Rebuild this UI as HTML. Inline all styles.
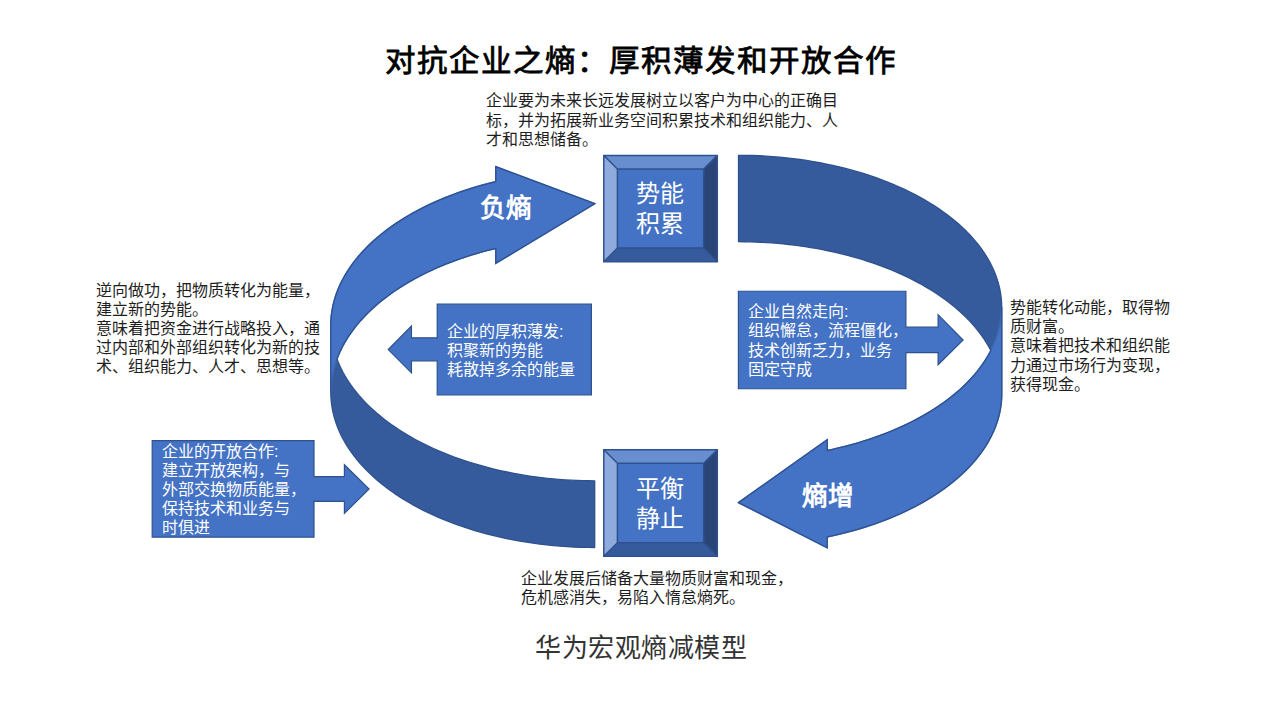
<!DOCTYPE html>
<html lang="zh-CN">
<head>
<meta charset="utf-8">
<style>
html,body{margin:0;padding:0;background:#fff;}
body{width:1280px;height:720px;position:relative;overflow:hidden;font-family:"Liberation Sans",sans-serif;}
svg{position:absolute;left:0;top:0;}
.t{position:absolute;white-space:nowrap;font-size:16px;line-height:19.2px;color:#1e1e1e;}
.w{color:#fff;}
#title{color:#000;left:385px;top:41px;font-size:30.5px;letter-spacing:2px;line-height:40px;-webkit-text-stroke:0.8px #000;transform:scaleY(0.965);transform-origin:0 0;}
#sub{left:535px;top:631.5px;font-size:26px;letter-spacing:0.55px;line-height:32px;color:#333;}
.big{font-size:25.6px;font-weight:bold;color:#fff;line-height:32px;}
.box{font-size:24px;color:#fff;line-height:30px;}
</style>
</head>
<body>
<svg width="1280" height="720" viewBox="0 0 1280 720">
<path d="M594.7 480.8 L594.7 480.8 L588.74 480.76 L582.79 480.64 L576.84 480.44 L570.91 480.17 L564.98 479.81 L559.07 479.38 L553.18 478.87 L547.31 478.28 L541.46 477.61 L535.64 476.86 L529.85 476.04 L524.09 475.14 L518.37 474.17 L512.69 473.11 L507.05 471.99 L501.45 470.79 L495.91 469.51 L490.41 468.16 L484.96 466.74 L479.58 465.25 L474.25 463.69 L468.98 462.05 L463.77 460.35 L458.63 458.58 L453.57 456.74 L448.57 454.83 L443.65 452.86 L438.8 450.82 L434.04 448.72 L429.35 446.55 L424.75 444.33 L420.24 442.04 L415.81 439.7 L411.48 437.29 L407.24 434.83 L403.1 432.31 L399.05 429.74 L395.1 427.12 L391.26 424.44 L387.52 421.72 L383.88 418.94 L380.35 416.12 L376.93 413.25 L373.62 410.34 L370.43 407.38 L367.34 404.39 L364.38 401.35 L361.53 398.27 L358.8 395.16 L356.19 392.01 L353.7 388.82 L351.34 385.61 L349.09 382.36 L346.98 379.09 L344.99 375.79 L343.12 372.46 L341.39 369.11 L339.78 365.73 L338.31 362.34 L336.96 358.92 L336.96 358.92 L335.89 361.94 L334.91 364.97 L334.04 368.01 L333.28 371.06 L332.61 374.12 L332.05 377.18 L331.59 380.25 L331.24 383.33 L330.99 386.41 L330.84 389.49 L330.8 392.57 L330.86 395.65 L331.03 398.74 L331.3 401.81 L331.67 404.89 L332.15 407.96 L332.73 411.02 L333.42 414.08 L334.2 417.13 L335.09 420.16 L336.09 423.19 L337.18 426.21 L338.38 429.21 L339.68 432.19 L341.07 435.16 L342.57 438.12 L344.17 441.05 L345.86 443.97 L347.66 446.87 L349.55 449.74 L351.54 452.59 L353.62 455.42 L355.8 458.23 L358.08 461 L360.44 463.75 L362.9 466.48 L365.45 469.17 L368.1 471.83 L370.83 474.46 L373.64 477.06 L376.55 479.63 L379.54 482.16 L382.62 484.65 L385.78 487.11 L389.02 489.53 L392.35 491.92 L395.75 494.26 L399.23 496.56 L402.79 498.83 L406.43 501.05 L410.14 503.22 L413.92 505.36 L417.77 507.45 L421.7 509.49 L425.69 511.49 L429.75 513.44 L433.87 515.34 L438.05 517.2 L442.3 519 L446.61 520.76 L450.98 522.46 L455.4 524.11 L459.88 525.72 L464.41 527.26 L469 528.76 L473.63 530.2 L478.31 531.59 L483.03 532.92 L487.8 534.2 L492.62 535.42 L497.47 536.58 L502.36 537.69 L507.29 538.74 L512.25 539.73 L517.24 540.66 L522.27 541.54 L527.32 542.36 L532.4 543.11 L537.51 543.81 L542.64 544.45 L547.78 545.03 L552.95 545.55 L558.13 546 L563.33 546.4 L568.54 546.74 L573.76 547.01 L578.99 547.22 L584.22 547.38 L589.46 547.47 L594.7 547.5 Z" fill="#365B9D"/>
<path d="M330.8 392.27 L330.85 389.21 L331.01 386.14 L331.26 383.07 L331.63 380.01 L332.09 376.95 L332.66 373.9 L333.32 370.85 L334.1 367.82 L334.97 364.79 L335.94 361.77 L337.02 358.77 L338.2 355.78 L339.47 352.8 L340.85 349.84 L342.33 346.9 L343.9 343.97 L345.58 341.06 L347.35 338.18 L349.21 335.31 L351.18 332.46 L353.24 329.64 L355.39 326.85 L357.64 324.08 L359.97 321.33 L362.41 318.61 L364.93 315.93 L367.54 313.27 L370.24 310.64 L373.03 308.05 L375.9 305.49 L378.87 302.96 L381.91 300.46 L385.04 298.01 L388.25 295.59 L391.54 293.2 L394.91 290.86 L398.36 288.56 L401.89 286.29 L405.49 284.07 L409.16 281.89 L412.91 279.75 L416.73 277.66 L420.62 275.61 L424.57 273.61 L428.6 271.65 L432.68 269.75 L436.84 267.89 L441.05 266.07 L445.32 264.31 L449.65 262.6 L454.04 260.94 L458.49 259.33 L462.98 257.77 L467.53 256.26 L472.13 254.81 L476.77 253.41 L481.47 252.07 L486.2 250.78 L490.98 249.54 L495.8 248.36 L495.8 263.31 L594.7 203.7 L495.8 166.71 L495.8 181.66 L495.8 181.66 L490.98 182.84 L486.2 184.08 L481.47 185.37 L476.77 186.71 L472.13 188.11 L467.53 189.56 L462.98 191.07 L458.49 192.63 L454.04 194.24 L449.65 195.9 L445.32 197.61 L441.05 199.37 L436.84 201.19 L432.68 203.05 L428.6 204.95 L424.57 206.91 L420.62 208.91 L416.73 210.96 L412.91 213.05 L409.16 215.19 L405.49 217.37 L401.89 219.59 L398.36 221.86 L394.91 224.16 L391.54 226.5 L388.25 228.89 L385.04 231.31 L381.91 233.76 L378.87 236.26 L375.9 238.79 L373.03 241.35 L370.24 243.94 L367.54 246.57 L364.93 249.23 L362.41 251.91 L359.97 254.63 L357.64 257.38 L355.39 260.15 L353.24 262.94 L351.18 265.76 L349.21 268.61 L347.35 271.48 L345.58 274.36 L343.9 277.27 L342.33 280.2 L340.85 283.14 L339.47 286.1 L338.2 289.08 L337.02 292.07 L335.94 295.07 L334.97 298.09 L334.1 301.12 L333.32 304.15 L332.66 307.2 L332.09 310.25 L331.63 313.31 L331.26 316.37 L331.01 319.44 L330.85 322.51 L330.8 325.57 Z" fill="#4472C4" stroke="#4472C4" stroke-width="1.6"/>
<path d="M336.96 358.92 L338.11 355.99 L339.36 353.07 L340.7 350.16 L342.13 347.27 L343.67 344.4 L345.29 341.54 L347.01 338.71 L348.83 335.89 L350.73 333.09 L352.73 330.32 L354.82 327.57 L357 324.85 L359.27 322.15 L361.63 319.47 L364.07 316.83 L366.6 314.21 L369.22 311.62 L371.92 309.06 L374.71 306.54 L377.58 304.04 L380.53 301.58 L383.56 299.15 L386.67 296.76 L389.86 294.41 L393.13 292.09 L396.47 289.81 L399.89 287.56 L403.38 285.36 L406.94 283.2 L410.58 281.07 L414.28 278.99 L418.05 276.96 L421.89 274.96 L425.79 273.01 L429.75 271.11 L433.78 269.25 L437.87 267.43 L442.02 265.67 L446.22 263.95 L450.48 262.28 L454.8 260.66 L459.16 259.09 L463.58 257.56 L468.05 256.09 L472.57 254.67 L477.13 253.31 L481.73 251.99 L486.38 250.73 L491.07 249.52 L495.8 248.36 L495.8 263.31 L594.7 203.7 L495.8 166.71 L495.8 181.66 L495.8 181.66 L490.98 182.84 L486.2 184.08 L481.47 185.37 L476.77 186.71 L472.13 188.11 L467.53 189.56 L462.98 191.07 L458.49 192.63 L454.04 194.24 L449.65 195.9 L445.32 197.61 L441.05 199.37 L436.84 201.19 L432.68 203.05 L428.6 204.95 L424.57 206.91 L420.62 208.91 L416.73 210.96 L412.91 213.05 L409.16 215.19 L405.49 217.37 L401.89 219.59 L398.36 221.86 L394.91 224.16 L391.54 226.5 L388.25 228.89 L385.04 231.31 L381.91 233.76 L378.87 236.26 L375.9 238.79 L373.03 241.35 L370.24 243.94 L367.54 246.57 L364.93 249.23 L362.41 251.91 L359.97 254.63 L357.64 257.38 L355.39 260.15 L353.24 262.94 L351.18 265.76 L349.21 268.61 L347.35 271.48 L345.58 274.36 L343.9 277.27 L342.33 280.2 L340.85 283.14 L339.47 286.1 L338.2 289.08 L337.02 292.07 L335.94 295.07 L334.97 298.09 L334.1 301.12 L333.32 304.15 L332.66 307.2 L332.09 310.25 L331.63 313.31 L331.26 316.37 L331.01 319.44 L330.85 322.51 L330.8 325.57 L330.8 392.27 L330.89 396.34 L331.16 400.4 L331.61 404.45 L332.25 408.5 L333.06 412.54 L334.05 416.56 L335.22 420.56 L336.57 424.55 L338.09 428.51 L339.79 432.45 L341.67 436.36 L343.72 440.24 L345.94 444.09 L348.33 447.9 L350.89 451.68 L353.62 455.41 L356.51 459.1 L359.56 462.75 L362.78 466.34 L366.16 469.89 L369.69 473.38 L373.37 476.82 L377.21 480.2 L381.2 483.51 L385.33 486.77 L389.61 489.96 L394.03 493.09 L398.58 496.14 L403.27 499.12 L408.09 502.04 L413.04 504.87 L418.12 507.63 L423.31 510.31 L428.62 512.91 L434.05 515.42 L439.58 517.85 L445.23 520.2 L450.97 522.46 L456.81 524.63 L462.75 526.7 L468.78 528.69 L474.89 530.58 L481.09 532.38 L487.36 534.08 L493.71 535.68 L500.13 537.19 L506.61 538.6 L513.15 539.9 L519.75 541.11 L526.4 542.21 L533.09 543.21 L539.83 544.11 L546.61 544.9 L553.42 545.59 L560.25 546.17 L567.11 546.65 L573.99 547.02 L580.89 547.29 L587.79 547.45 L594.7 547.5 L594.7 480.8 L588.74 480.76 L582.79 480.64 L576.84 480.44 L570.91 480.17 L564.98 479.81 L559.07 479.38 L553.18 478.87 L547.31 478.28 L541.46 477.61 L535.64 476.86 L529.85 476.04 L524.09 475.14 L518.37 474.17 L512.69 473.11 L507.05 471.99 L501.45 470.79 L495.91 469.51 L490.41 468.16 L484.96 466.74 L479.58 465.25 L474.25 463.69 L468.98 462.05 L463.77 460.35 L458.63 458.58 L453.57 456.74 L448.57 454.83 L443.65 452.86 L438.8 450.82 L434.04 448.72 L429.35 446.55 L424.75 444.33 L420.24 442.04 L415.81 439.7 L411.48 437.29 L407.24 434.83 L403.1 432.31 L399.05 429.74 L395.1 427.12 L391.26 424.44 L387.52 421.72 L383.88 418.94 L380.35 416.12 L376.93 413.25 L373.62 410.34 L370.43 407.38 L367.34 404.39 L364.38 401.35 L361.53 398.27 L358.8 395.16 L356.19 392.01 L353.7 388.82 L351.34 385.61 L349.09 382.36 L346.98 379.09 L344.99 375.79 L343.12 372.46 L341.39 369.11 L339.78 365.73 L338.31 362.34 L336.96 358.92 Z" fill="none" stroke="#2F528F" stroke-width="1.3" stroke-linejoin="round"/>
<path d="M330.8 392.27 L330.82 390.59 L330.86 388.91 L330.94 387.23 L331.05 385.55 L331.19 383.88 L331.36 382.2 L331.56 380.52 L331.79 378.85 L332.05 377.17 L332.35 375.5 L332.67 373.83 L333.02 372.16 L333.41 370.5 L333.83 368.84 L334.27 367.18 L334.75 365.52 L335.26 363.87 L335.8 362.22 L336.36 360.57 L336.96 358.92" fill="none" stroke="#2F528F" stroke-width="0.6" stroke-opacity="0.7"/>
<path d="M738.5 241.7 L738.5 241.7 L744.13 241.73 L749.75 241.84 L755.37 242.01 L760.98 242.26 L766.58 242.57 L772.17 242.95 L777.74 243.4 L783.3 243.92 L788.83 244.51 L794.34 245.16 L799.83 245.88 L805.28 246.68 L810.71 247.53 L816.1 248.46 L821.46 249.45 L826.78 250.51 L832.06 251.63 L837.3 252.82 L842.49 254.07 L847.64 255.39 L852.73 256.77 L857.78 258.21 L862.76 259.71 L867.7 261.28 L872.57 262.9 L877.38 264.59 L882.13 266.33 L886.81 268.14 L891.42 270 L895.97 271.91 L900.44 273.89 L904.84 275.91 L909.16 278 L913.41 280.13 L917.57 282.32 L921.65 284.55 L925.65 286.84 L929.56 289.17 L933.39 291.56 L937.13 293.99 L940.77 296.46 L944.33 298.98 L947.79 301.55 L951.15 304.15 L954.42 306.8 L957.59 309.49 L960.65 312.21 L963.62 314.97 L966.48 317.77 L969.24 320.6 L971.9 323.47 L974.44 326.37 L976.88 329.3 L979.21 332.26 L981.43 335.24 L983.54 338.26 L985.54 341.3 L987.43 344.36 L989.2 347.44 L990.85 350.55 L990.85 350.55 L992.34 347.53 L993.73 344.49 L995 341.44 L996.16 338.37 L997.22 335.29 L998.16 332.2 L998.99 329.1 L999.72 325.98 L1000.33 322.86 L1000.83 319.73 L1001.21 316.6 L1001.49 313.47 L1001.65 310.33 L1001.7 307.19 L1001.64 304.05 L1001.46 300.91 L1001.18 297.77 L1000.78 294.64 L1000.27 291.51 L999.65 288.39 L998.91 285.28 L998.07 282.18 L997.11 279.09 L996.05 276.01 L994.87 272.94 L993.59 269.89 L992.19 266.86 L990.69 263.84 L989.08 260.84 L987.37 257.86 L985.54 254.9 L983.62 251.96 L981.58 249.05 L979.45 246.16 L977.21 243.3 L974.87 240.47 L972.43 237.66 L969.89 234.88 L967.25 232.14 L964.51 229.43 L961.67 226.75 L958.74 224.1 L955.72 221.49 L952.61 218.92 L949.4 216.38 L946.1 213.88 L942.72 211.43 L939.24 209.01 L935.68 206.64 L932.04 204.31 L928.32 202.02 L924.51 199.78 L920.63 197.58 L916.66 195.43 L912.62 193.33 L908.51 191.28 L904.32 189.27 L900.07 187.32 L895.74 185.42 L891.35 183.57 L886.89 181.77 L882.37 180.03 L877.79 178.34 L873.15 176.7 L868.45 175.12 L863.69 173.6 L858.88 172.14 L854.02 170.73 L849.11 169.38 L844.16 168.09 L839.16 166.86 L834.11 165.69 L829.03 164.58 L823.9 163.53 L818.74 162.54 L813.55 161.61 L808.32 160.75 L803.07 159.95 L797.79 159.21 L792.48 158.53 L787.14 157.92 L781.79 157.37 L776.42 156.89 L771.03 156.47 L765.63 156.11 L760.22 155.82 L754.8 155.59 L749.37 155.43 L743.94 155.33 L738.5 155.3 Z" fill="#365B9D"/>
<path d="M1001.7 307.35 L1001.64 310.46 L1001.48 313.57 L1001.2 316.67 L1000.82 319.77 L1000.33 322.87 L999.72 325.96 L999.01 329.04 L998.19 332.12 L997.25 335.18 L996.22 338.23 L995.07 341.27 L993.81 344.29 L992.45 347.3 L990.99 350.29 L989.41 353.27 L987.73 356.22 L985.95 359.15 L984.07 362.07 L982.08 364.96 L979.99 367.82 L977.8 370.66 L975.51 373.48 L973.12 376.26 L970.63 379.02 L968.04 381.75 L965.36 384.44 L962.58 387.11 L959.71 389.74 L956.75 392.33 L953.7 394.89 L950.55 397.42 L947.32 399.9 L944 402.35 L940.6 404.76 L937.1 407.13 L933.53 409.45 L929.88 411.73 L926.14 413.97 L922.33 416.17 L918.44 418.32 L914.47 420.42 L910.43 422.48 L906.32 424.48 L902.14 426.44 L897.89 428.35 L893.57 430.21 L889.19 432.01 L884.75 433.77 L880.24 435.47 L875.68 437.12 L871.06 438.71 L866.38 440.25 L861.65 441.73 L856.86 443.16 L852.03 444.53 L847.15 445.84 L842.23 447.09 L837.26 448.29 L832.25 449.43 L827.2 450.51 L827.2 439.71 L738.5 502.6 L827.2 547.71 L827.2 536.91 L827.2 536.91 L832.25 535.83 L837.26 534.69 L842.23 533.49 L847.15 532.24 L852.03 530.93 L856.86 529.56 L861.65 528.13 L866.38 526.65 L871.06 525.11 L875.68 523.52 L880.24 521.87 L884.75 520.17 L889.19 518.41 L893.57 516.61 L897.89 514.75 L902.14 512.84 L906.32 510.88 L910.43 508.88 L914.47 506.82 L918.44 504.72 L922.33 502.57 L926.14 500.37 L929.88 498.13 L933.53 495.85 L937.1 493.53 L940.6 491.16 L944 488.75 L947.32 486.3 L950.55 483.82 L953.7 481.29 L956.75 478.73 L959.71 476.14 L962.58 473.51 L965.36 470.84 L968.04 468.15 L970.63 465.42 L973.12 462.66 L975.51 459.88 L977.8 457.06 L979.99 454.22 L982.08 451.36 L984.07 448.47 L985.95 445.55 L987.73 442.62 L989.41 439.67 L990.99 436.69 L992.45 433.7 L993.81 430.69 L995.07 427.67 L996.22 424.63 L997.25 421.58 L998.19 418.52 L999.01 415.44 L999.72 412.36 L1000.33 409.27 L1000.82 406.17 L1001.2 403.07 L1001.48 399.97 L1001.64 396.86 L1001.7 393.75 Z" fill="#4472C4" stroke="#4472C4" stroke-width="1.6"/>
<path d="M990.85 350.55 L989.4 353.28 L987.87 355.99 L986.24 358.69 L984.53 361.37 L982.73 364.03 L980.85 366.67 L978.87 369.29 L976.82 371.88 L974.68 374.46 L972.46 377.01 L970.15 379.53 L967.76 382.03 L965.29 384.51 L962.75 386.95 L960.12 389.37 L957.41 391.76 L954.63 394.12 L951.77 396.45 L948.84 398.75 L945.83 401.02 L942.75 403.25 L939.6 405.45 L936.37 407.61 L933.08 409.74 L929.72 411.83 L926.29 413.89 L922.79 415.91 L919.23 417.89 L915.6 419.83 L911.92 421.73 L908.17 423.59 L904.36 425.41 L900.49 427.19 L896.57 428.93 L892.59 430.62 L888.55 432.27 L884.47 433.87 L880.33 435.44 L876.14 436.95 L871.9 438.42 L867.62 439.85 L863.29 441.22 L858.92 442.55 L854.5 443.84 L850.04 445.07 L845.55 446.26 L841.01 447.39 L836.44 448.48 L831.84 449.52 L827.2 450.51 L827.2 439.71 L738.5 502.6 L827.2 547.71 L827.2 536.91 L827.2 536.91 L832.25 535.83 L837.26 534.69 L842.23 533.49 L847.15 532.24 L852.03 530.93 L856.86 529.56 L861.65 528.13 L866.38 526.65 L871.06 525.11 L875.68 523.52 L880.24 521.87 L884.75 520.17 L889.19 518.41 L893.57 516.61 L897.89 514.75 L902.14 512.84 L906.32 510.88 L910.43 508.88 L914.47 506.82 L918.44 504.72 L922.33 502.57 L926.14 500.37 L929.88 498.13 L933.53 495.85 L937.1 493.53 L940.6 491.16 L944 488.75 L947.32 486.3 L950.55 483.82 L953.7 481.29 L956.75 478.73 L959.71 476.14 L962.58 473.51 L965.36 470.84 L968.04 468.15 L970.63 465.42 L973.12 462.66 L975.51 459.88 L977.8 457.06 L979.99 454.22 L982.08 451.36 L984.07 448.47 L985.95 445.55 L987.73 442.62 L989.41 439.67 L990.99 436.69 L992.45 433.7 L993.81 430.69 L995.07 427.67 L996.22 424.63 L997.25 421.58 L998.19 418.52 L999.01 415.44 L999.72 412.36 L1000.33 409.27 L1000.82 406.17 L1001.2 403.07 L1001.48 399.97 L1001.64 396.86 L1001.7 393.75 L1001.7 307.35 L1001.61 303.37 L1001.34 299.39 L1000.89 295.42 L1000.26 291.46 L999.45 287.5 L998.46 283.56 L997.29 279.64 L995.95 275.74 L994.43 271.85 L992.73 268 L990.86 264.17 L988.82 260.36 L986.6 256.59 L984.22 252.86 L981.67 249.16 L978.95 245.51 L976.06 241.89 L973.01 238.32 L969.8 234.8 L966.44 231.33 L962.91 227.9 L959.24 224.54 L955.41 221.23 L951.43 217.98 L947.31 214.79 L943.04 211.66 L938.64 208.6 L934.1 205.61 L929.42 202.69 L924.61 199.83 L919.67 197.06 L914.62 194.35 L909.43 191.73 L904.14 189.18 L898.73 186.72 L893.21 184.34 L887.58 182.04 L881.85 179.83 L876.02 177.71 L870.1 175.67 L864.09 173.73 L857.99 171.87 L851.81 170.11 L845.55 168.45 L839.22 166.87 L832.82 165.4 L826.36 164.02 L819.83 162.74 L813.25 161.56 L806.62 160.48 L799.94 159.5 L793.22 158.62 L786.46 157.85 L779.67 157.17 L772.85 156.6 L766.01 156.13 L759.15 155.77 L752.27 155.51 L745.39 155.35 L738.5 155.3 L738.5 241.7 L744.13 241.73 L749.75 241.84 L755.37 242.01 L760.98 242.26 L766.58 242.57 L772.17 242.95 L777.74 243.4 L783.3 243.92 L788.83 244.51 L794.34 245.16 L799.83 245.88 L805.28 246.68 L810.71 247.53 L816.1 248.46 L821.46 249.45 L826.78 250.51 L832.06 251.63 L837.3 252.82 L842.49 254.07 L847.64 255.39 L852.73 256.77 L857.78 258.21 L862.76 259.71 L867.7 261.28 L872.57 262.9 L877.38 264.59 L882.13 266.33 L886.81 268.14 L891.42 270 L895.97 271.91 L900.44 273.89 L904.84 275.91 L909.16 278 L913.41 280.13 L917.57 282.32 L921.65 284.55 L925.65 286.84 L929.56 289.17 L933.39 291.56 L937.13 293.99 L940.77 296.46 L944.33 298.98 L947.79 301.55 L951.15 304.15 L954.42 306.8 L957.59 309.49 L960.65 312.21 L963.62 314.97 L966.48 317.77 L969.24 320.6 L971.9 323.47 L974.44 326.37 L976.88 329.3 L979.21 332.26 L981.43 335.24 L983.54 338.26 L985.54 341.3 L987.43 344.36 L989.2 347.44 L990.85 350.55 Z" fill="none" stroke="#2F528F" stroke-width="1.3" stroke-linejoin="round"/>
<path d="M1001.7 307.35 L1001.67 309.54 L1001.59 311.73 L1001.45 313.92 L1001.26 316.11 L1001.02 318.29 L1000.72 320.47 L1000.36 322.66 L999.95 324.83 L999.49 327.01 L998.97 329.18 L998.4 331.34 L997.78 333.5 L997.1 335.66 L996.37 337.8 L995.58 339.95 L994.74 342.08 L993.85 344.21 L992.9 346.33 L991.9 348.45 L990.85 350.55" fill="none" stroke="#2F528F" stroke-width="0.6" stroke-opacity="0.7"/>
<rect x="617.4" y="169" width="86.3" height="79.1" fill="#4472C4"/>
<path d="M603.8 155.4 L717.3 155.4 L703.7 169 L617.4 169 Z" fill="#698ED0"/>
<path d="M603.8 261.7 L717.3 261.7 L703.7 248.1 L617.4 248.1 Z" fill="#365B9D"/>
<path d="M603.8 155.4 L617.4 169 L617.4 248.1 L603.8 261.7 Z" fill="#8FAADC"/>
<path d="M717.3 155.4 L703.7 169 L703.7 248.1 L717.3 261.7 Z" fill="#294476"/>
<path d="M603.8 155.4 H717.3 V261.7 H603.8 Z M617.4 169 H703.7 V248.1 H617.4 Z M603.8 155.4 L617.4 169 M717.3 155.4 L703.7 169 M717.3 261.7 L703.7 248.1 M603.8 261.7 L617.4 248.1" fill="none" stroke="#2F528F" stroke-width="1.5"/>
<rect x="617.4" y="463.3" width="86.3" height="79.4" fill="#4472C4"/>
<path d="M603.8 449.7 L717.3 449.7 L703.7 463.3 L617.4 463.3 Z" fill="#698ED0"/>
<path d="M603.8 556.3 L717.3 556.3 L703.7 542.7 L617.4 542.7 Z" fill="#365B9D"/>
<path d="M603.8 449.7 L617.4 463.3 L617.4 542.7 L603.8 556.3 Z" fill="#8FAADC"/>
<path d="M717.3 449.7 L703.7 463.3 L703.7 542.7 L717.3 556.3 Z" fill="#294476"/>
<path d="M603.8 449.7 H717.3 V556.3 H603.8 Z M617.4 463.3 H703.7 V542.7 H617.4 Z M603.8 449.7 L617.4 463.3 M717.3 449.7 L703.7 463.3 M717.3 556.3 L703.7 542.7 M603.8 556.3 L617.4 542.7" fill="none" stroke="#2F528F" stroke-width="1.5"/>
<path d="M437.2 304.2 H591.4 V395 H437.2 V360.8 H411.45 V372.8 L388.25 349.6 L411.45 326 V337.8 H437.2 Z" fill="#4472C4" stroke="#2F528F" stroke-width="1.2"/>
<path d="M738.4 291.25 H905.9 V327.2 H938.1 V314.7 L963.1 340 L938.1 364.75 V352.6 H905.9 V388.75 H738.4 Z" fill="#4472C4" stroke="#2F528F" stroke-width="1.2"/>
<path d="M152.2 440.7 H314 V476.6 H344.4 V464.7 L369.1 488.95 L344.4 513.4 V501.3 H314 V537.2 H152.2 Z" fill="#4472C4" stroke="#2F528F" stroke-width="1.2"/>
</svg>
<div id="title" class="t">对抗企业之熵：厚积薄发和开放合作</div>
<div class="t" style="left:486px;top:91.4px;">企业要为未来长远发展树立以客户为中心的正确目<br>标，并为拓展新业务空间积累技术和组织能力、人<br>才和思想储备。</div>
<div class="t" style="left:95.5px;top:280.5px;">逆向做功，把物质转化为能量，<br>建立新的势能。<br>意味着把资金进行战略投入，通<br>过内部和外部组织转化为新的技<br>术、组织能力、人才、思想等。</div>
<div class="t" style="left:1009.8px;top:298px;">势能转化动能，取得物<br>质财富。<br>意味着把技术和组织能<br>力通过市场行为变现，<br>获得现金。</div>
<div class="t" style="left:521px;top:568.8px;">企业发展后储备大量物质财富和现金，<br>危机感消失，易陷入惰怠熵死。</div>
<div class="t w" style="left:447px;top:321.7px;">企业的厚积薄发:<br>积聚新的势能<br>耗散掉多余的能量</div>
<div class="t w" style="left:748px;top:302.2px;">企业自然走向:<br>组织懈怠，流程僵化，<br>技术创新乏力，业务<br>固定守成</div>
<div class="t w" style="left:162px;top:441.6px;">企业的开放合作:<br>建立开放架构，与<br>外部交换物质能量，<br>保持技术和业务与<br>时俱进</div>
<div class="t big" style="left:480px;top:191.5px;">负熵</div>
<div class="t big" style="left:802px;top:479.5px;">熵增</div>
<div class="t box" style="left:636px;top:179px;">势能<br>积累</div>
<div class="t box" style="left:636px;top:474px;">平衡<br>静止</div>
<div id="sub" class="t">华为宏观熵减模型</div>
</body>
</html>
